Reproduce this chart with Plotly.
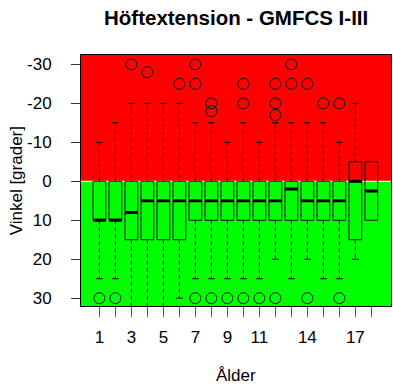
import plotly.graph_objects as go

ages = list(range(1, 19))
q1 = [0, 0, 0, 0, 0, 0, 0, 0, 0, 0, 0, 0, 0, 0, 0, 0, -5, -5]
median = [10, 10, 8, 5, 5, 5, 5, 5, 5, 5, 5, 5, 2, 5, 5, 5, 0, 2.5]
q3 = [10, 10, 15, 15, 15, 15, 10, 10, 10, 10, 10, 10, 10, 10, 10, 10, 15, 10]
whisk_lo = [-10, -15, -20, -20, -20, -20, -15, -15, -10, -15, -10, -15, -15, -15, -15, -10, -20, -5]
whisk_hi = [25, 25, 35, 35, 35, 30, 25, 25, 25, 25, 25, 20, 25, 20, 25, 25, 20, 10]
out_age = [1, 2, 3, 4, 6, 7, 7, 7, 8, 8, 8, 9, 10, 10, 10, 11, 12, 12, 12, 12, 13, 13, 14, 14, 15, 16, 16]
out_val = [30, 30, -30, -28, -25, -30, -25, 30, -20, -18, 30, 30, -25, -20, 30, 30, -25, -20, -17, 30, -30, -25, -25, 30, -20, -20, 30]
tick_labels = ["1", "", "3", "", "5", "", "7", "", "9", "", "11", "", "", "14", "", "", "17", ""]

BW = 0.8   # box width
CW = 0.22  # cap half width
FONT = "Liberation Sans, Arial, sans-serif"

fig = go.Figure()

# whiskers (dashed)
wx, wy = [], []
for a, l, h, b, t in zip(ages, whisk_lo, whisk_hi, q1, q3):
    if l < b:
        wx += [a, a, None]; wy += [l, b, None]
    if h > t:
        wx += [a, a, None]; wy += [t, h, None]
fig.add_trace(go.Scatter(x=wx, y=wy, mode="lines", line=dict(color="black", width=1, dash="4px,3px"),
                         hoverinfo="skip", showlegend=False))
# caps
cx, cy = [], []
for a, l, h, b, t in zip(ages, whisk_lo, whisk_hi, q1, q3):
    if l < b:
        cx += [a - CW, a + CW, None]; cy += [l, l, None]
    if h > t:
        cx += [a - CW, a + CW, None]; cy += [h, h, None]
fig.add_trace(go.Scatter(x=cx, y=cy, mode="lines", line=dict(color="black", width=1),
                         hoverinfo="skip", showlegend=False))

# boxes
fig.add_trace(go.Box(x=ages, q1=q1, median=median, q3=q3, lowerfence=q1, upperfence=q3,
                     width=BW, whiskerwidth=0, fillcolor="rgba(0,0,0,0)",
                     line=dict(color="#111111", width=1), boxpoints=False,
                     hoverinfo="skip", showlegend=False))
# medians (thick)
mx, my = [], []
for a, m in zip(ages, median):
    mx += [a - BW / 2, a + BW / 2, None]; my += [m, m, None]
fig.add_trace(go.Scatter(x=mx, y=my, mode="lines", line=dict(color="black", width=3),
                         hoverinfo="skip", showlegend=False))
# outliers
fig.add_trace(go.Scatter(x=out_age, y=out_val, mode="markers",
                         marker=dict(symbol="circle-open", size=11, color="#111111", line=dict(width=1)),
                         hoverinfo="skip", showlegend=False))

fig.update_layout(
    width=393, height=388,
    margin=dict(l=81, r=2, t=55, b=82),
    paper_bgcolor="white", plot_bgcolor="white",
    font=dict(family=FONT, size=17, color="black"),
    shapes=[
        dict(type="rect", xref="paper", yref="y", x0=0, x1=1, y0=-40, y1=0,
             fillcolor="#FF0000", line=dict(width=0), layer="below"),
        dict(type="rect", xref="paper", yref="y", x0=0, x1=1, y0=0, y1=40,
             fillcolor="#00FF00", line=dict(width=0), layer="below"),
        dict(type="line", xref="paper", yref="y", x0=0, x1=1, y0=0, y1=0,
             line=dict(color="white", width=1), layer="below"),
    ],
    annotations=[
        dict(text="<b>Höftextension - GMFCS I-III</b>", xref="paper", yref="paper", x=0.5, y=1.149,
             xanchor="center", yanchor="middle", showarrow=False, font=dict(size=20.5, family=FONT)),
        dict(text="Ålder", xref="paper", yref="paper", x=0.5, y=-0.275,
             xanchor="center", yanchor="middle", showarrow=False, font=dict(size=17, family=FONT)),
        dict(text="Vinkel [grader]", xref="paper", yref="paper", x=-0.207, y=0.5, textangle=-90,
             xanchor="center", yanchor="middle", showarrow=False, font=dict(size=17, family=FONT)),
    ],
)
fig.update_xaxes(range=[-0.15, 19.23], tickmode="array", tickvals=ages, ticktext=tick_labels,
                 ticks="outside", ticklen=10, tickcolor="#555555", tickwidth=1,
                 showline=True, mirror=True, linecolor="black", linewidth=1,
                 showgrid=False, zeroline=False, ticklabelstandoff=6)
fig.update_yaxes(range=[32.0, -32.4], tickmode="array", tickvals=[-30, -20, -10, 0, 10, 20, 30],
                 ticktext=["-30", "-20", "-10", "0", "10", "20", "30"],
                 ticks="outside", ticklen=9, tickcolor="#333333", tickwidth=1,
                 showline=True, mirror=True, linecolor="black", linewidth=1,
                 showgrid=False, zeroline=False, ticklabelstandoff=16)

fig.write_html("out.html")
